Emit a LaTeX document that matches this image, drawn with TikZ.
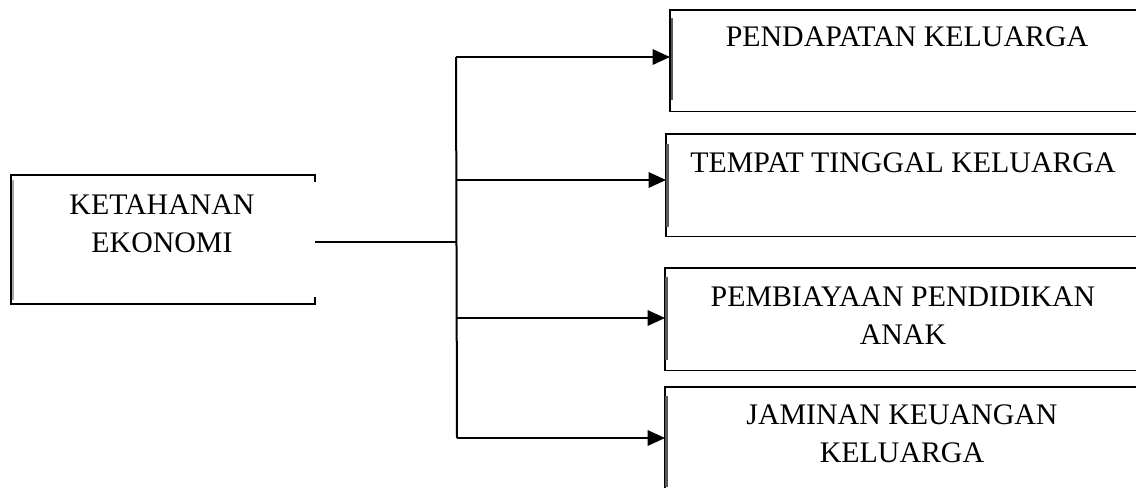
\documentclass[tikz,border=0pt]{standalone}
\usepackage{fontspec}
\setmainfont{Liberation Serif}
\usetikzlibrary{arrows.meta}
\begin{document}
\begin{tikzpicture}[x=0.75pt,y=-0.75pt,
  boxframe/.style={draw=black,line width=0.8pt},
  boxshape/.style={minimum width=650*0.75pt,minimum height=102*0.75pt,anchor=north west,inner sep=0pt},
  leftbar/.style={draw=black!65,line width=1.8pt},
  label/.style={font=\fontsize{22.4}{28.5}\selectfont,align=center,inner sep=0pt},
  conn/.style={line width=1.5pt,draw=black},
  arr/.style={conn,-{Triangle[length=13pt,width=11.5pt]}}]
\useasboundingbox (0,0) rectangle (1136,487);
\clip (0,0) rectangle (1136,487);
% left box (right edge only as corner ticks)
\draw[boxframe] (315,182) -- (315,175) -- (11,175) -- (11,304) -- (315,304) -- (315,297);
\draw[draw=black!35,line width=1.5pt] (12.5,180) -- (12.5,300);
\node[label] (ket) at (162,224) {KETAHANAN\\EKONOMI};
\coordinate (src) at (315,242);
% right boxes (their right edges lie beyond the picture)
\node[boxshape,minimum height=101*0.75pt] (b1) at (670,10) {};
\node[boxshape] (b2) at (666,134) {};
\node[boxshape] (b3) at (665,268) {};
\node[boxshape] (b4) at (665,387) {};
\foreach \b in {b1,b2,b3,b4}
  \draw[boxframe] (\b.north east) -- (\b.north west) -- (\b.south west) -- (\b.south east);
\draw[leftbar] (672,18) -- (672,100);
\draw[leftbar] (667.5,144) -- (667.5,227);
\draw[leftbar] (666.5,277) -- (666.5,360);
\draw[leftbar] (666.5,396) -- (666.5,487);
\node[label] (t1) at (907,37) {PENDAPATAN KELUARGA};
\node[label] (t2) at (903,163) {TEMPAT TINGGAL KELUARGA};
\node[label] (t3) at (903,316) {PEMBIAYAAN PENDIDIKAN\\ANAK};
\node[label] (t4) at (902,434) {JAMINAN KEUANGAN\\KELUARGA};
% connectors
\coordinate (j) at (456,242);
\coordinate (k1) at (456,57);
\coordinate (k2) at (457,180);
\coordinate (k3) at (456,318);
\coordinate (k4) at (457,438);
\draw[conn] (src) -- (j);
\draw[conn] (k1) -- (k4);
\draw[arr] (k1) -- (b1.west |- k1);
\draw[arr] (k2) -- (b2.west |- k2);
\draw[arr] (k3) -- (b3.west |- k3);
\draw[arr] (k4) -- (b4.west |- k4);
\end{tikzpicture}
\end{document}
